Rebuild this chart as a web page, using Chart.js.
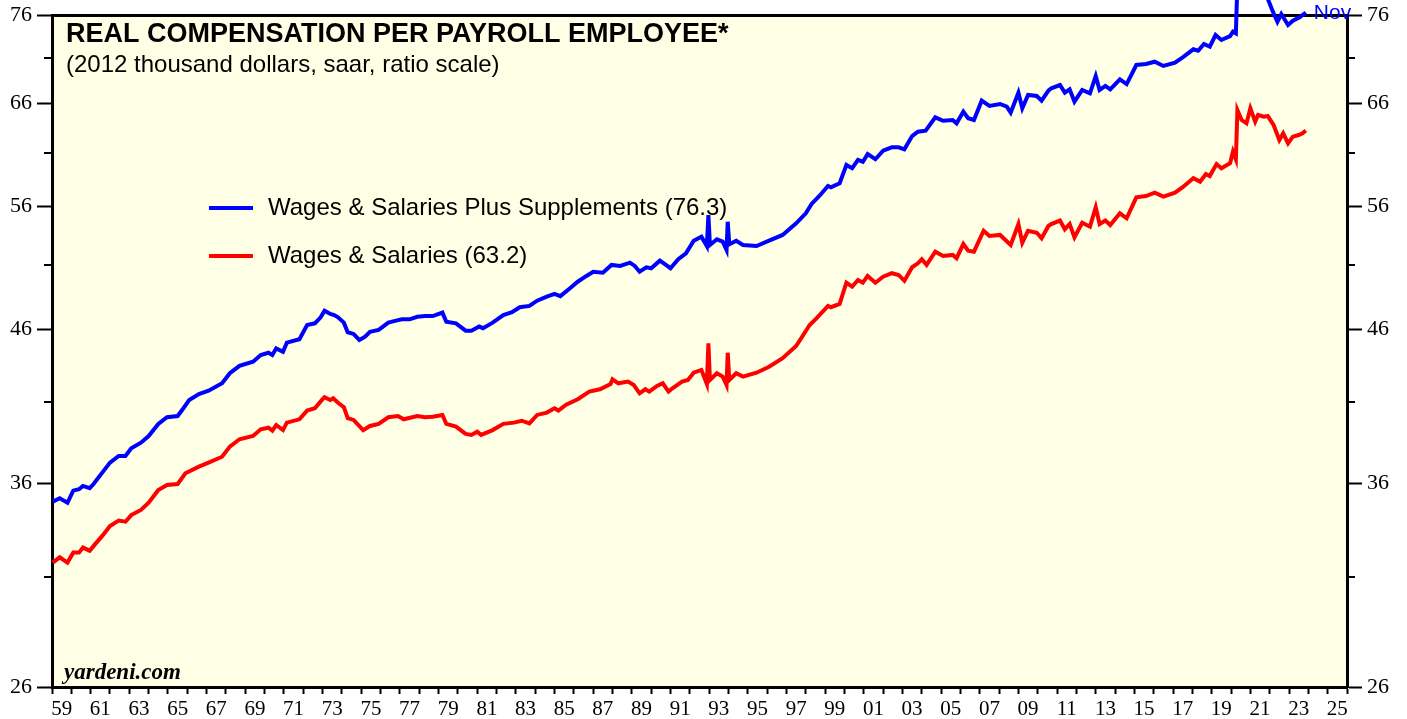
<!DOCTYPE html>
<html>
<head>
<meta charset="utf-8">
<script src="https://cdn.jsdelivr.net/npm/chart.js@4.4.1/dist/chart.umd.min.js"></script>
<style>
  html, body { margin: 0; padding: 0; background: #fff; }
</style>
</head>
<body>
<canvas id="compChart" width="1407" height="719"></canvas>
<script>
// --- data (2012 thousand dollars, saar) ---
const blueYears = [
  1959.04, 1959.4, 1959.8, 1960.1, 1960.4, 1960.6, 1960.95, 1961.15, 1961.6, 1962.0,
  1962.45, 1962.8, 1963.1, 1963.6, 1964.0, 1964.5, 1964.95, 1965.5, 1965.8, 1966.1,
  1966.6, 1967.1, 1967.8, 1968.2, 1968.7, 1969.4, 1969.8, 1970.2, 1970.4, 1970.6,
  1970.95, 1971.15, 1971.8, 1972.2, 1972.6, 1972.9, 1973.1, 1973.4, 1973.6, 1973.8,
  1974.1, 1974.3, 1974.6, 1974.9, 1975.2, 1975.45, 1975.9, 1976.4, 1976.8, 1977.1,
  1977.5, 1977.9, 1978.3, 1978.7, 1979.2, 1979.4, 1979.9, 1980.4, 1980.7, 1981.1,
  1981.3, 1981.8, 1982.35, 1982.8, 1983.2, 1983.7, 1984.1, 1984.6, 1985.0, 1985.3,
  1985.8, 1986.2, 1986.65, 1987.0, 1987.5, 1987.95, 1988.4, 1988.9, 1989.15, 1989.4,
  1989.75, 1990.0, 1990.45, 1990.6, 1991.0, 1991.4, 1991.8, 1992.2, 1992.6, 1992.88,
  1992.96, 1993.04, 1993.4, 1993.7, 1993.9, 1993.96, 1994.04, 1994.4, 1994.75, 1995.45,
  1996.1, 1996.8, 1997.5, 1998.0, 1998.3, 1998.7, 1999.15, 1999.3, 1999.75, 2000.1,
  2000.4, 2000.7, 2000.95, 2001.2, 2001.6, 2002.0, 2002.45, 2002.8, 2003.1, 2003.5,
  2003.8, 2004.2, 2004.7, 2005.1, 2005.6, 2005.8, 2006.15, 2006.4, 2006.7, 2007.1,
  2007.5, 2008.05, 2008.4, 2008.6, 2009.0, 2009.2, 2009.5, 2009.95, 2010.2, 2010.55,
  2010.7, 2011.15, 2011.4, 2011.65, 2011.9, 2012.3, 2012.7, 2013.0, 2013.2, 2013.5,
  2013.75, 2014.25, 2014.6, 2015.1, 2015.6, 2016.05, 2016.5, 2017.1, 2017.5, 2018.05,
  2018.3, 2018.6, 2018.9, 2019.2, 2019.5, 2019.95, 2020.1, 2020.25, 2020.33, 2020.55,
  2020.8, 2021.0, 2021.25, 2021.4, 2021.7, 2021.9, 2022.15, 2022.4, 2022.6, 2022.95,
  2023.2, 2023.55, 2023.87
];
const blueValues = [
  34.95, 35.14, 34.89, 35.57, 35.65, 35.84, 35.71, 35.95, 36.61, 37.20,
  37.60, 37.60, 38.06, 38.40, 38.81, 39.57, 39.99, 40.07, 40.57, 41.11,
  41.50, 41.72, 42.22, 42.90, 43.41, 43.70, 44.17, 44.33, 44.17, 44.64,
  44.40, 45.05, 45.29, 46.34, 46.46, 46.91, 47.41, 47.16, 47.08, 46.91,
  46.51, 45.80, 45.68, 45.24, 45.48, 45.84, 45.97, 46.51, 46.66, 46.76,
  46.76, 46.95, 47.00, 47.00, 47.26, 46.58, 46.46, 45.92, 45.92, 46.22,
  46.10, 46.51, 47.08, 47.29, 47.67, 47.77, 48.17, 48.48, 48.69, 48.52,
  49.13, 49.65, 50.11, 50.45, 50.37, 51.00, 50.92, 51.18, 50.92, 50.45,
  50.81, 50.73, 51.35, 51.18, 50.73, 51.46, 51.95, 53.01, 53.35, 52.56,
  55.23, 52.65, 53.13, 52.93, 52.23, 54.64, 52.70, 53.01, 52.65, 52.56,
  53.01, 53.50, 54.50, 55.38, 56.21, 56.93, 57.85, 57.73, 58.10, 59.82,
  59.51, 60.30, 60.13, 60.87, 60.37, 61.20, 61.53, 61.53, 61.33, 62.65,
  63.08, 63.18, 64.55, 64.20, 64.27, 63.93, 65.13, 64.45, 64.27, 66.29,
  65.73, 65.94, 65.65, 65.03, 67.14, 65.49, 66.89, 66.78, 66.29, 67.35,
  67.61, 67.96, 67.14, 67.50, 66.18, 67.43, 67.07, 68.95, 67.43, 67.86,
  67.50, 68.59, 68.07, 70.17, 70.28, 70.54, 70.06, 70.43, 71.04, 71.95,
  71.79, 72.57, 72.25, 73.61, 73.03, 73.49, 74.00, 73.81, 80.00, 79.00,
  78.80, 80.20, 78.90, 79.50, 79.20, 78.00, 76.50, 75.19, 76.12, 74.80,
  75.31, 75.72, 76.30
];

const redYears = [
  1959.04, 1959.4, 1959.8, 1960.1, 1960.4, 1960.6, 1960.95, 1961.2, 1961.6, 1962.0,
  1962.45, 1962.8, 1963.1, 1963.6, 1964.0, 1964.5, 1964.95, 1965.5, 1965.9, 1966.6,
  1967.1, 1967.8, 1968.2, 1968.7, 1969.4, 1969.8, 1970.2, 1970.4, 1970.6, 1970.95,
  1971.15, 1971.8, 1972.2, 1972.6, 1973.0, 1973.1, 1973.4, 1973.55, 1973.8, 1974.1,
  1974.3, 1974.6, 1975.1, 1975.45, 1975.9, 1976.4, 1976.9, 1977.2, 1977.9, 1978.3,
  1978.7, 1979.2, 1979.4, 1979.9, 1980.4, 1980.7, 1981.0, 1981.2, 1981.8, 1982.35,
  1982.9, 1983.3, 1983.7, 1984.1, 1984.6, 1985.0, 1985.2, 1985.6, 1986.2, 1986.8,
  1987.35, 1987.9, 1988.0, 1988.3, 1988.8, 1989.1, 1989.4, 1989.7, 1989.9, 1990.3,
  1990.6, 1990.9, 1991.1, 1991.6, 1991.9, 1992.2, 1992.6, 1992.88, 1992.96, 1993.04,
  1993.4, 1993.7, 1993.9, 1993.96, 1994.04, 1994.4, 1994.75, 1995.45, 1996.1, 1996.8,
  1997.5, 1998.2, 1998.55, 1999.15, 1999.3, 1999.75, 2000.1, 2000.4, 2000.7, 2000.95,
  2001.2, 2001.6, 2002.0, 2002.45, 2002.8, 2003.1, 2003.5, 2003.8, 2004.0, 2004.25,
  2004.7, 2005.1, 2005.6, 2005.8, 2006.15, 2006.4, 2006.7, 2007.2, 2007.5, 2008.05,
  2008.6, 2009.0, 2009.2, 2009.5, 2009.95, 2010.2, 2010.55, 2010.7, 2011.15, 2011.4,
  2011.65, 2011.9, 2012.3, 2012.7, 2013.0, 2013.2, 2013.5, 2013.75, 2014.25, 2014.6,
  2015.1, 2015.6, 2016.05, 2016.5, 2017.1, 2017.5, 2018.05, 2018.4, 2018.7, 2018.9,
  2019.25, 2019.5, 2019.95, 2020.1, 2020.25, 2020.33, 2020.55, 2020.8, 2021.0, 2021.25,
  2021.4, 2021.7, 2021.9, 2022.2, 2022.5, 2022.7, 2022.95, 2023.2, 2023.5, 2023.7,
  2023.87
];
const redValues = [
  31.71, 31.98, 31.71, 32.22, 32.22, 32.48, 32.32, 32.62, 33.09, 33.62,
  33.91, 33.85, 34.21, 34.49, 34.89, 35.61, 35.89, 35.95, 36.57, 36.96,
  37.20, 37.55, 38.16, 38.61, 38.81, 39.23, 39.33, 39.15, 39.50, 39.18,
  39.65, 39.86, 40.42, 40.57, 41.16, 41.29, 41.11, 41.22, 40.93, 40.64,
  39.93, 39.82, 39.18, 39.44, 39.57, 39.99, 40.07, 39.86, 40.07, 39.99,
  40.03, 40.14, 39.57, 39.40, 38.94, 38.88, 39.08, 38.88, 39.18, 39.57,
  39.65, 39.77, 39.60, 40.14, 40.29, 40.57, 40.42, 40.80, 41.16, 41.66,
  41.82, 42.17, 42.49, 42.22, 42.33, 42.10, 41.55, 41.82, 41.66, 42.04,
  42.22, 41.66, 41.88, 42.33, 42.44, 42.94, 43.13, 42.17, 45.00, 42.44,
  42.90, 42.67, 42.10, 44.33, 42.44, 42.90, 42.67, 42.94, 43.35, 43.94,
  44.81, 46.34, 46.83, 47.77, 47.67, 47.92, 49.57, 49.26, 49.79, 49.57,
  50.11, 49.57, 50.05, 50.33, 50.19, 49.73, 50.81, 51.13, 51.46, 51.00,
  52.09, 51.73, 51.82, 51.55, 52.73, 52.17, 52.09, 53.86, 53.41, 53.50,
  52.65, 54.44, 52.84, 53.86, 53.69, 53.22, 54.27, 54.44, 54.74, 53.98,
  54.44, 53.30, 54.55, 54.21, 55.91, 54.44, 54.74, 54.35, 55.38, 54.94,
  56.81, 56.93, 57.23, 56.87, 57.23, 57.73, 58.57, 58.25, 58.97, 58.78,
  59.91, 59.51, 59.98, 61.10, 60.37, 65.30, 64.27, 63.93, 65.49, 64.10,
  64.79, 64.61, 64.68, 63.77, 62.25, 62.92, 61.93, 62.59, 62.75, 62.92,
  63.20
];

const majorTicks = [26, 36, 46, 56, 66, 76];
const minorTicks = [31, 41, 51, 61, 71];
const yearLabels = [
  "59", "61", "63", "65", "67", "69", "71", "73", "75", "77", "79", "81",
  "83", "85", "87", "89", "91", "93", "95", "97", "99", "01", "03", "05",
  "07", "09", "11", "13", "15", "17", "19", "21", "23", "25"
];

const serif = "'Liberation Serif', 'Times New Roman', serif";
const sans = "'Liberation Sans', Arial, sans-serif";

// background of the plot, minor ticks and the texts inside the frame
const paperPlugin = {
  id: "paper",
  beforeDraw(chart) {
    const { ctx, chartArea: a } = chart;
    ctx.save();
    ctx.fillStyle = "#FFFFE6";
    ctx.fillRect(a.left, a.top, a.right - a.left, a.bottom - a.top);
    ctx.restore();
  },
  afterDraw(chart) {
    const { ctx, chartArea: a } = chart;
    const y = chart.scales.y;
    const x = chart.scales.x;
    ctx.save();

    // minor ticks on both sides
    ctx.strokeStyle = "#000";
    ctx.lineWidth = 2;
    minorTicks.forEach((v) => {
      const py = Math.round(y.getPixelForValue(v));
      ctx.beginPath();
      ctx.moveTo(a.left - 8, py);
      ctx.lineTo(a.left, py);
      ctx.moveTo(a.right, py);
      ctx.lineTo(a.right + 8, py);
      ctx.stroke();
    });

    // title
    ctx.fillStyle = "#000";
    ctx.textBaseline = "middle";
    ctx.textAlign = "left";
    ctx.font = "bold 27px " + sans;
    ctx.fillText("REAL COMPENSATION PER PAYROLL EMPLOYEE*", 66, 35);
    ctx.font = "24px " + sans;
    ctx.fillText("(2012 thousand dollars, saar, ratio scale)", 66, 65);

    // legend
    const legend = [
      { color: "#0000FF", text: "Wages & Salaries Plus Supplements (76.3)", y: 208 },
      { color: "#FF0000", text: "Wages & Salaries (63.2)", y: 256 },
    ];
    ctx.font = "24px " + sans;
    legend.forEach((item) => {
      ctx.strokeStyle = item.color;
      ctx.lineWidth = 4;
      ctx.beginPath();
      ctx.moveTo(209, item.y);
      ctx.lineTo(253, item.y);
      ctx.stroke();
      ctx.fillStyle = "#000";
      ctx.fillText(item.text, 268, item.y);
    });

    // source
    ctx.font = "italic bold 23px " + serif;
    ctx.textBaseline = "alphabetic";
    ctx.fillText("yardeni.com", 64, 679);

    // last month marker
    const last = blueYears.length - 1;
    ctx.fillStyle = "#0000FF";
    ctx.font = "21px " + sans;
    ctx.textBaseline = "middle";
    ctx.fillText("Nov", x.getPixelForValue(blueYears[last]) + 8, y.getPixelForValue(blueValues[last]) + 1);
    ctx.restore();
  },
};

const yAxis = (position, width) => ({
  type: "logarithmic",
  position: position,
  min: 26,
  max: 76,
  afterBuildTicks: (scale) => {
    scale.ticks = majorTicks.map((v) => ({ value: v }));
  },
  afterFit: (scale) => {
    scale.width = width;
    scale.paddingTop = 0;
    scale.paddingBottom = 0;
  },
  grid: { drawOnChartArea: false, tickLength: 15, tickWidth: 2, tickColor: "#000" },
  border: { color: "#000", width: 3 },
  ticks: {
    autoSkip: false,
    padding: 5,
    color: "#000",
    font: { family: serif, size: 22 },
    callback: (v) => String(v),
  },
});

new Chart(document.getElementById("compChart"), {
  type: "line",
  data: {
    datasets: [
      {
        label: "Wages & Salaries Plus Supplements",
        data: blueYears.map((yr, i) => ({ x: yr, y: blueValues[i] })),
        borderColor: "#0000FF",
        borderWidth: 4,
        pointRadius: 0,
        tension: 0,
        clip: false,
      },
      {
        label: "Wages & Salaries",
        data: redYears.map((yr, i) => ({ x: yr, y: redValues[i] })),
        borderColor: "#FF0000",
        borderWidth: 4,
        pointRadius: 0,
        tension: 0,
        clip: false,
      },
    ],
  },
  options: {
    responsive: false,
    devicePixelRatio: 1,
    animation: false,
    layout: { padding: 0 },
    plugins: { legend: { display: false }, tooltip: { enabled: false } },
    scales: {
      x: {
        type: "linear",
        position: "bottom",
        min: 1959,
        max: 2026,
        afterBuildTicks: (scale) => {
          const t = [];
          for (let yr = 1959; yr <= 2026; yr++) {
            t.push({ value: yr });
            if (yr < 2026) t.push({ value: yr + 0.5 });
          }
          scale.ticks = t;
        },
        afterFit: (scale) => {
          scale.height = 32;
          scale.paddingLeft = 0;
          scale.paddingRight = 0;
        },
        grid: {
          drawOnChartArea: false,
          tickLength: 7,
          tickWidth: 2,
          tickColor: (c) => (c.tick && Number.isInteger(c.tick.value) ? "#000" : "rgba(0,0,0,0)"),
        },
        border: { color: "#000", width: 3 },
        ticks: {
          autoSkip: false,
          maxRotation: 0,
          padding: 3,
          color: "#000",
          font: { family: serif, size: 21 },
          callback: (v) => {
            const i = (v - 1959.5) / 2;
            return Number.isInteger(i) ? yearLabels[i] : "";
          },
        },
      },
      xTop: {
        type: "linear",
        position: "top",
        min: 1959,
        max: 2026,
        afterFit: (scale) => {
          scale.height = 15;
          scale.paddingLeft = 0;
          scale.paddingRight = 0;
        },
        grid: { display: false },
        border: { color: "#000", width: 3 },
        ticks: { display: false },
      },
      y: yAxis("left", 52),
      yRight: yAxis("right", 60),
    },
  },
  plugins: [paperPlugin],
});
</script>
</body>
</html>
